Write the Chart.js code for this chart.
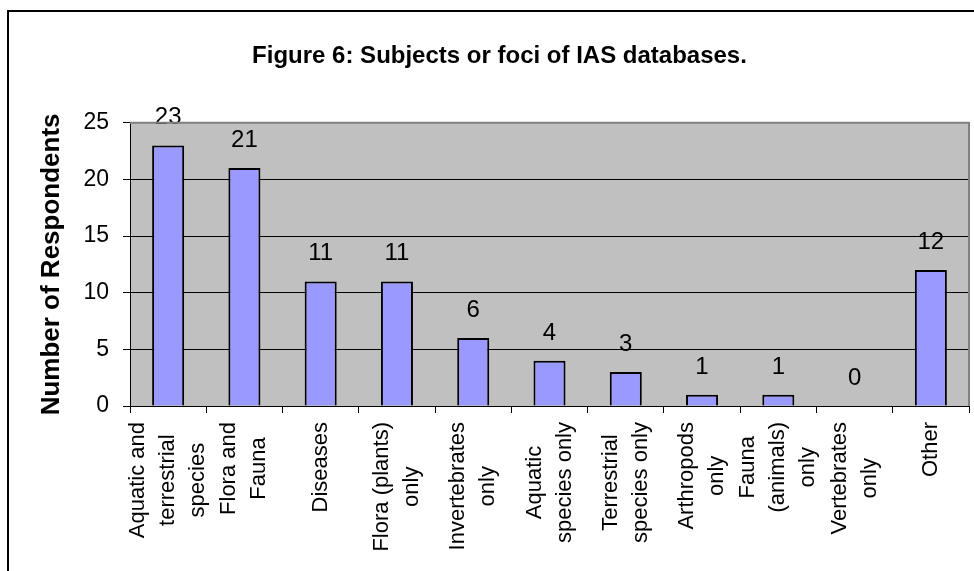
<!DOCTYPE html>
<html>
<head>
<meta charset="utf-8">
<script src="https://cdn.jsdelivr.net/npm/chart.js@4.4.1/dist/chart.umd.min.js"></script>
<style>
  html, body { margin: 0; padding: 0; background: #fff; overflow: hidden; }
  #wrap { width: 974px; height: 571px; }
</style>
</head>
<body>
<div id="wrap"><canvas id="myChart" width="974" height="571"></canvas></div>
<script>
const categories = [
  ['Aquatic and', 'terrestrial', 'species'],
  ['Flora and', 'Fauna'],
  ['Diseases'],
  ['Flora (plants)', 'only'],
  ['Invertebrates', 'only'],
  ['Aquatic', 'species only'],
  ['Terrestrial', 'species only'],
  ['Arthropods', 'only'],
  ['Fauna', '(animals)', 'only'],
  ['Vertebrates', 'only'],
  ['Other']
];
const respondents = [23, 21, 11, 11, 6, 4, 3, 1, 1, 0, 12];
const yTicks = [0, 5, 10, 15, 20, 25];

const FONT = "'Liberation Sans', Arial, sans-serif";

// grey plot background, outer frame and top/right plot border
const plotFrame = {
  id: 'plotFrame',
  beforeDraw(chart) {
    const { ctx, chartArea: a } = chart;
    ctx.save();
    ctx.fillStyle = '#c0c0c0';
    ctx.fillRect(a.left, a.top, a.right - a.left, a.bottom - a.top);
    ctx.restore();
  },
  afterDraw(chart) {
    const { ctx, chartArea: a } = chart;
    ctx.save();
    ctx.strokeStyle = '#808080';
    ctx.lineWidth = 2;
    ctx.beginPath();
    ctx.moveTo(a.left, a.top);
    ctx.lineTo(a.right, a.top);
    ctx.lineTo(a.right, a.bottom);
    ctx.stroke();
    ctx.strokeStyle = '#000';
    ctx.beginPath();
    ctx.moveTo(8, chart.height);
    ctx.lineTo(8, 11);
    ctx.lineTo(chart.width, 11);
    ctx.stroke();
    ctx.restore();
  }
};

// value above each bar
const barValues = {
  id: 'barValues',
  afterDatasetsDraw(chart) {
    const { ctx } = chart;
    const meta = chart.getDatasetMeta(0);
    ctx.save();
    ctx.font = '24px ' + FONT;
    ctx.fillStyle = '#000';
    ctx.textAlign = 'center';
    ctx.textBaseline = 'alphabetic';
    meta.data.forEach((bar, i) => {
      ctx.fillText(String(respondents[i]), bar.x, bar.y - 21);
    });
    ctx.restore();
  }
};

// vertical category labels, lines centred on each other
const categoryLabels = {
  id: 'categoryLabels',
  afterDraw(chart) {
    const { ctx } = chart;
    const xs = chart.scales.x;
    ctx.save();
    ctx.font = '22px ' + FONT;
    ctx.fillStyle = '#000';
    ctx.textAlign = 'center';
    ctx.textBaseline = 'middle';
    categories.forEach((lines, i) => {
      const x = xs.getPixelForValue(i);
      const longest = Math.max(...lines.map(l => ctx.measureText(l).width));
      const cy = xs.top + 16 + longest / 2;
      lines.forEach((line, j) => {
        ctx.save();
        ctx.translate(x + (j - (lines.length - 1) / 2) * 30, cy);
        ctx.rotate(-Math.PI / 2);
        ctx.fillText(line, 0, 0);
        ctx.restore();
      });
    });
    ctx.restore();
  }
};

new Chart(document.getElementById('myChart'), {
  type: 'bar',
  data: {
    labels: categories.map(c => c.join(' ')),
    datasets: [{
      data: respondents,
      backgroundColor: '#9999ff',
      borderColor: '#000',
      borderWidth: 2,
      barPercentage: 0.42,
      categoryPercentage: 1
    }]
  },
  options: {
    responsive: false,
    animation: false,
    layout: { padding: { top: 32, left: 30, right: 5, bottom: 0 } },
    plugins: {
      legend: { display: false },
      tooltip: { enabled: false },
      title: {
        display: true,
        text: 'Figure 6: Subjects or foci of IAS databases.',
        color: '#000',
        font: { family: FONT, size: 24, weight: 'bold' },
        padding: { top: 10, bottom: 52 }
      }
    },
    scales: {
      x: {
        afterFit(scale) { scale.height = 165; },
        ticks: { display: false },
        grid: {
          offset: true,
          drawOnChartArea: false,
          drawTicks: true,
          tickLength: 7,
          tickColor: '#000',
          color: '#000'
        },
        border: { color: '#000', width: 1 }
      },
      y: {
        min: 0,
        max: 25,
        afterFit(scale) { scale.width = 100; },
        afterBuildTicks(scale) { scale.ticks = yTicks.map(v => ({ value: v })); },
        ticks: {
          color: '#000',
          padding: 14,
          font: { family: FONT, size: 23 }
        },
        grid: {
          color: ctx => (ctx.tick && ctx.tick.value === 25) ? 'rgba(0,0,0,0)' : '#000',
          tickColor: '#000',
          tickLength: 7,
          lineWidth: 1
        },
        border: { color: '#000', width: 1 },
        title: {
          display: true,
          text: 'Number of Respondents',
          color: '#000',
          font: { family: FONT, size: 26, weight: 'bold' },
          padding: { top: 6, bottom: 0 }
        }
      }
    }
  },
  plugins: [plotFrame, barValues, categoryLabels]
});
</script>
</body>
</html>
